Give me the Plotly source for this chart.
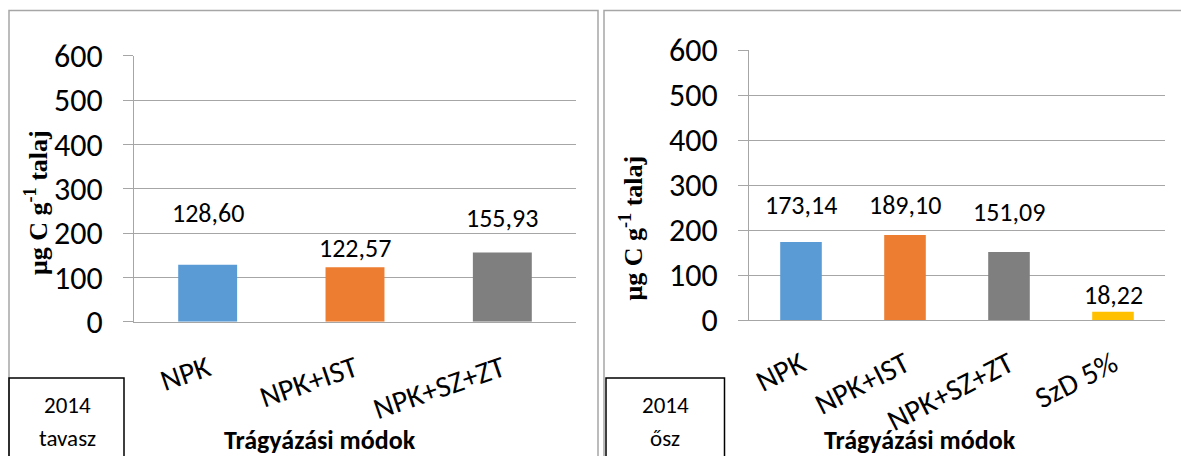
import plotly.graph_objects as go

W, H = 1181, 456

# ---------------- data ----------------
cats_spring = ["NPK", "NPK+IST", "NPK+SZ+ZT"]
vals_spring = [128.60, 122.57, 155.93]
labels_spring = ["128,60", "122,57", "155,93"]

cats_autumn = ["NPK", "NPK+IST", "NPK+SZ+ZT", "SzD 5%"]
vals_autumn = [173.14, 189.10, 151.09, 18.22]
labels_autumn = ["173,14", "189,10", "151,09", "18,22"]

y_ticks = [0, 100, 200, 300, 400, 500, 600]
y_title = "<b>μg C g<sup>-1</sup> talaj</b>"
x_title = "<b>Trágyázási módok</b>"
box_spring = ["2014", "tavasz"]
box_autumn = ["2014", "ősz"]

# ---------------- styles ----------------
colors_spring = ["#5B9BD5", "#ED7D31", "#7F7F7F"]
colors_autumn = ["#5B9BD5", "#ED7D31", "#7F7F7F", "#FFC000"]
shift_spring = [52, 19, 35]
shift_autumn = [37, 30, 40, 17]
GRID = "#A6A6A6"
FONT = "Carlito, Lato, sans-serif"


def px(x):
    return x / W


def py(y):
    return 1 - y / H


fig = go.Figure()
fig.add_trace(go.Bar(x=cats_spring, y=vals_spring, marker_color=colors_spring,
                     marker_line_width=0, xaxis="x", yaxis="y", hoverinfo="skip"))
fig.add_trace(go.Bar(x=cats_autumn, y=vals_autumn, marker_color=colors_autumn,
                     marker_line_width=0, xaxis="x2", yaxis="y2", hoverinfo="skip"))

yax = dict(range=[0, 600], tickvals=y_ticks, showgrid=True, gridcolor=GRID, gridwidth=1,
           showline=True, linecolor=GRID, linewidth=1, ticks="outside", ticklen=10,
           tickcolor=GRID, tickfont=dict(family=FONT, size=32, color="black"),
           ticklabelstandoff=14, zeroline=False, fixedrange=True, automargin=False)
xax = dict(showline=True, linecolor=GRID, linewidth=1, ticks="",
           tickfont=dict(family=FONT, size=30, color="black"), fixedrange=True,
           automargin=False)

fig.update_layout(
    width=W, height=H, margin=dict(l=0, r=0, t=0, b=0, autoexpand=False),
    paper_bgcolor="white", plot_bgcolor="white", showlegend=False,
    bargap=0.6,
    xaxis=dict(xax, domain=[px(134), px(576)], anchor="y", tickangle=-19, ticklabelstandoff=17),
    yaxis=dict(yax, domain=[py(321.7), py(55.7)], anchor="x"),
    xaxis2=dict(xax, domain=[px(749), px(1165)], anchor="y2", tickangle=-27, ticklabelstandoff=14),
    yaxis2=dict(yax, domain=[py(320), py(50)], anchor="x2"),
)

ann = []
for c, v, t, s in zip(cats_spring, vals_spring, labels_spring, shift_spring):
    ann.append(dict(x=c, y=v, xref="x", yref="y", text=t, showarrow=False, yshift=s,
                    yanchor="middle", font=dict(family=FONT, size=26, color="black")))
for c, v, t, s in zip(cats_autumn, vals_autumn, labels_autumn, shift_autumn):
    ann.append(dict(x=c, y=v, xref="x2", yref="y2", text=t, showarrow=False, yshift=s,
                    yanchor="middle", font=dict(family=FONT, size=26, color="black")))

# axis titles
for xc, yc in [(36, 203), (631.5, 228)]:
    ann.append(dict(x=px(xc), y=py(yc), xref="paper", yref="paper", text=y_title,
                    textangle=-90, showarrow=False, xanchor="center", yanchor="middle",
                    font=dict(family="Liberation Serif, Times New Roman, serif", size=26, color="black")))
for xc in [320, 919.5]:
    ann.append(dict(x=px(xc), y=py(440), xref="paper", yref="paper", text=x_title,
                    showarrow=False, xanchor="center", yanchor="middle",
                    font=dict(family=FONT, size=26, color="black")))

# boxes text
for xc, lines in [(67, box_spring), (665, box_autumn)]:
    for yc, t in zip([405, 438], lines):
        ann.append(dict(x=px(xc), y=py(yc), xref="paper", yref="paper", text=t,
                        showarrow=False, xanchor="center", yanchor="middle",
                        font=dict(family=FONT, size=23, color="black")))
fig.update_layout(annotations=ann)

shapes = []
# panel borders
for x0, x1 in [(9, 598), (604, 1195)]:
    shapes.append(dict(type="rect", xref="paper", yref="paper", x0=px(x0), x1=px(x1),
                       y0=py(470), y1=py(10.5), line=dict(color="#A6A6A6", width=1.5)))
# label boxes
for x0, x1 in [(9, 124), (606, 724.5)]:
    shapes.append(dict(type="rect", xref="paper", yref="paper", x0=px(x0), x1=px(x1),
                       y0=py(470), y1=py(378), line=dict(color="black", width=1.5)))
fig.update_layout(shapes=shapes)

fig.write_html("out.html", config={"displayModeBar": False},
               post_script="document.body.style.margin='0';document.body.style.overflow='hidden';")
